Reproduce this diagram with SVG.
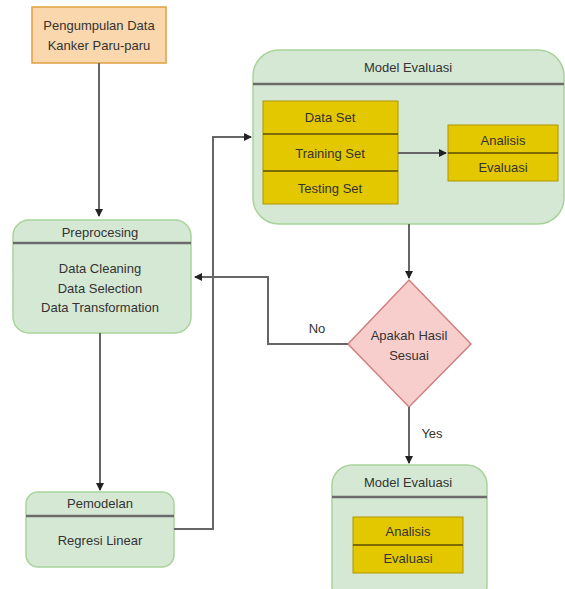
<svg xmlns="http://www.w3.org/2000/svg" width="565" height="589" viewBox="0 0 565 589">
<defs>
<marker id="ah" markerWidth="8" markerHeight="8" refX="7" refY="4" orient="auto" markerUnits="userSpaceOnUse">
<path d="M0,0 L8,4 L0,8 Z" fill="#222"/>
</marker>
<style>
text{font-family:"Liberation Sans",Arial,sans-serif;font-size:13px;fill:#333;text-anchor:middle;dominant-baseline:central}
.g{fill:#d5e8d4;stroke:#a8d39a;stroke-width:1.5}
.y{fill:#e3c800;stroke:#b09500;stroke-width:1}
.hl{stroke:#6b6b6b;stroke-width:2.5}
.yl{stroke:#5a4c00;stroke-width:1.5}
.c{fill:none;stroke:#666;stroke-width:2}
</style>
</defs>
<g id="pengumpulan">
<rect x="32" y="7" width="134" height="56" fill="#fad7ac" stroke="#e0a040" stroke-width="1.5"/>
<text x="99" y="25">Pengumpulan Data</text>
<text x="99" y="45">Kanker Paru-paru</text>
</g>
<g id="preprocesing">
<rect class="g" x="13" y="220" width="178" height="113" rx="16"/>
<line class="hl" x1="13" y1="243" x2="191" y2="243"/>
<text x="100" y="232">Preprocesing</text>
<text x="100" y="268">Data Cleaning</text>
<text x="100" y="288">Data Selection</text>
<text x="100" y="307">Data Transformation</text>
</g>
<g id="pemodelan">
<rect class="g" x="26" y="492" width="148" height="75" rx="12"/>
<line class="hl" x1="26" y1="516" x2="174" y2="516"/>
<text x="100" y="503">Pemodelan</text>
<text x="100" y="540">Regresi Linear</text>
</g>
<g id="model-evaluasi-1">
<rect class="g" x="253" y="50" width="311" height="174" rx="26"/>
<line class="hl" x1="253" y1="84" x2="564" y2="84"/>
<text x="408" y="67">Model Evaluasi</text>
<rect class="y" x="263" y="101" width="135" height="103"/>
<line class="yl" x1="263" y1="134" x2="398" y2="134"/>
<line class="yl" x1="263" y1="171" x2="398" y2="171"/>
<text x="330" y="117">Data Set</text>
<text x="330" y="153">Training Set</text>
<text x="330" y="188">Testing Set</text>
<rect class="y" x="448" y="125" width="110" height="56"/>
<line class="yl" x1="448" y1="153" x2="558" y2="153"/>
<text x="503" y="140">Analisis</text>
<text x="503" y="167">Evaluasi</text>
</g>
<g id="decision">
<polygon points="409,280 471,344 409,407 348,344" fill="#f8cecc" stroke="#d08080" stroke-width="1.5"/>
<text x="409" y="335">Apakah Hasil</text>
<text x="409" y="355">Sesuai</text>
</g>
<g id="model-evaluasi-2">
<rect class="g" x="332" y="465" width="155" height="140" rx="20"/>
<line class="hl" x1="332" y1="497" x2="487" y2="497"/>
<text x="408" y="482">Model Evaluasi</text>
<rect class="y" x="353" y="517" width="110" height="56"/>
<line class="yl" x1="353" y1="545" x2="463" y2="545"/>
<text x="408" y="531">Analisis</text>
<text x="408" y="558">Evaluasi</text>
</g>
<g id="connectors">
<path class="c" d="M99,63 V216" marker-end="url(#ah)"/>
<path class="c" d="M100,333 V490" marker-end="url(#ah)"/>
<path class="c" d="M174,529 H213 V137 H251" marker-end="url(#ah)"/>
<path class="c" d="M398,153 H446" marker-end="url(#ah)"/>
<path class="c" d="M409,224 V278" marker-end="url(#ah)"/>
<path class="c" d="M348,344 H268 V277 H195" marker-end="url(#ah)"/>
<path class="c" d="M409,407 V463" marker-end="url(#ah)"/>
<text x="317" y="328">No</text>
<text x="432" y="433">Yes</text>
</g>
</svg>
